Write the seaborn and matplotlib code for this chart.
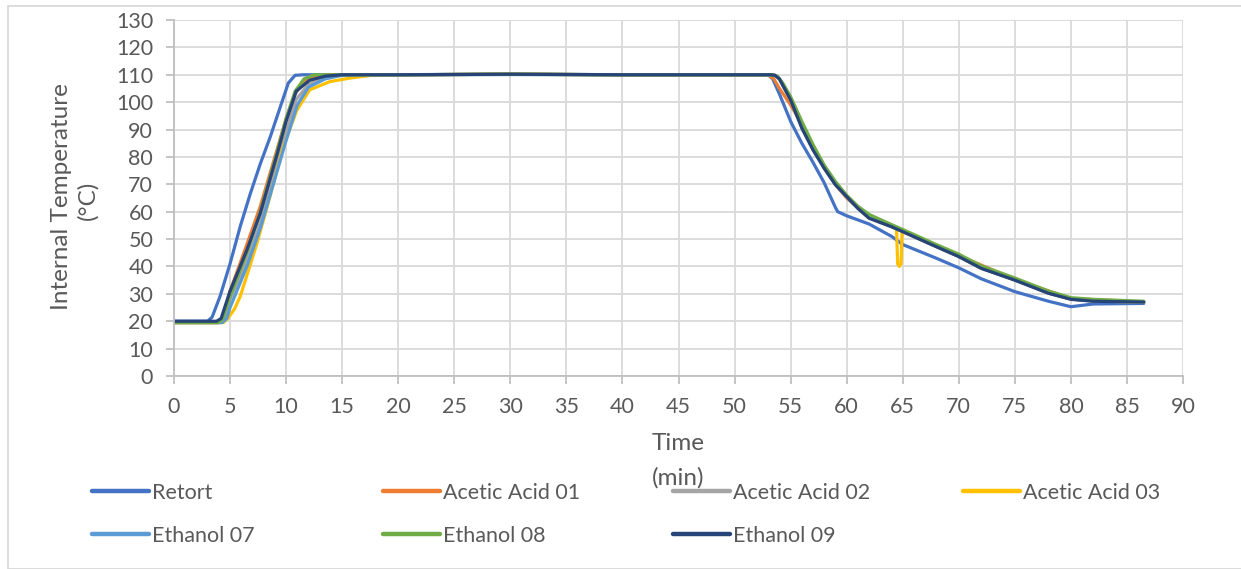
import matplotlib
matplotlib.use("Agg")
import matplotlib.pyplot as plt
import seaborn as sns
from matplotlib.lines import Line2D
from matplotlib.patches import Rectangle

# ---------------- data ----------------
series_names = ["Retort", "Acetic Acid 01", "Acetic Acid 02", "Acetic Acid 03",
                "Ethanol 07", "Ethanol 08", "Ethanol 09"]
series_colors = ["#4472C4", "#ED7D31", "#A5A5A5", "#FFC000",
                 "#5B9BD5", "#70AD47", "#264478"]

retort_t = [0, 3.0, 3.4, 4.1, 5.0, 5.9, 6.8, 7.7, 8.6, 9.5, 10.2, 10.8, 11.5, 20, 30, 40, 50,
            53.0, 53.4, 54, 55, 56, 57, 58, 59, 59.2, 60, 62, 64, 65, 68, 70, 72, 75, 78, 80, 82, 86.5]
retort_T = [20, 20, 21.5, 29, 41, 54.5, 66.5, 77.5, 87.5, 98.5, 107, 109.8, 110, 110, 110.3, 110, 110,
            110, 108.5, 103, 93, 85, 78, 70.5, 61.5, 60, 58.5, 55.5, 51, 48, 43, 39.5, 35.5, 30.8, 27.3, 25.3, 26.3, 26.5]

aa01_t = [0, 3.9, 4.3, 5.0, 6.5, 7.7, 9.0, 10.0, 10.8, 11.6, 12.5, 14, 20, 30, 40, 50,
          53.0, 53.5, 54, 55, 56, 57, 58, 59, 60, 61, 62, 64, 65, 70, 75, 80, 86.5]
aa01_T = [19.5, 19.5, 20.5, 31, 48, 62, 80, 94, 103, 107.5, 109.2, 110, 110, 110.2, 110, 110,
          110, 108.5, 105, 99, 92, 84, 76.5, 70, 65, 61.5, 58.5, 55, 53, 44, 35.3, 28.3, 27]

aa02_t = [0, 4.1, 4.5, 5.0, 6.5, 7.7, 9.0, 10.0, 10.9, 12.0, 13.5, 15, 20, 30, 40, 50,
          53.2, 53.6, 54, 55, 56, 57, 58, 59, 60, 61, 62, 64, 65, 68, 70, 72, 75, 78, 80, 82, 86.5]
aa02_T = [19.5, 19.5, 21, 28, 42, 56, 75, 89, 101, 106.5, 109, 110, 110, 110.1, 110, 110,
          110, 109.8, 108.5, 101, 91, 83, 76, 70, 65.5, 61.3, 57.8, 54.6, 52.8, 47.3, 43.7, 39.4, 35.1, 30.3, 28.1, 27.4, 27]

aa03_t = [0, 4.4, 4.8, 5.4, 5.9, 6.6, 7.4, 8.56, 9.75, 10.95, 12.1, 13.9, 15.7, 18, 20, 30, 40, 50,
          53.2, 53.6, 54, 55, 56, 57, 58, 59, 60, 61, 62, 64, 64.45, 64.55, 64.7, 64.85, 64.95, 65,
          68, 70, 72, 75, 78, 80, 82, 86.5]
aa03_T = [19.5, 19.5, 21, 24.5, 29, 38, 48.5, 65.5, 83.7, 97, 104.5, 107.5, 108.8, 110, 110, 110.2, 110, 110,
          110, 109.8, 108.5, 101, 91, 83, 76, 70, 65.5, 61.3, 57.8, 54.6, 53.6, 41, 40, 41, 52.8, 52.7,
          47.3, 43.7, 39.4, 35.1, 30.3, 28.1, 27.4, 27]

e07_t = [0, 4.3, 4.7, 5.0, 6.5, 7.7, 9.0, 10.0, 11.0, 12.0, 13.5, 15, 17, 20, 30, 40, 50,
         53.2, 53.6, 54, 55, 56, 57, 58, 59, 60, 61, 62, 64, 65, 68, 70, 72, 75, 78, 80, 82, 86.5]
e07_T = [19.5, 19.5, 21, 25, 40, 54, 72, 86, 99, 105.5, 108.5, 109.8, 110, 110, 110.1, 110, 110,
         110, 109.8, 108.5, 101, 91, 83, 76, 70, 65.5, 61.3, 57.8, 54.6, 52.8, 47.3, 43.7, 39.4, 35.1, 30.3, 28.1, 27.4, 27]

e08_t = [0, 3.9, 4.3, 5.0, 6.5, 7.7, 9.0, 10.0, 10.8, 11.6, 12.5, 14, 20, 30, 40, 50,
         53.3, 53.8, 54.3, 55, 56, 57, 58, 59, 60, 61, 62, 64, 65, 68, 70, 72, 75, 78, 80, 82, 86.5]
e08_T = [19.5, 19.5, 20.5, 29, 45, 60, 79, 94, 104, 108.5, 110, 110, 110, 110.2, 110, 110,
         110, 109.5, 107, 102, 93, 84.5, 77, 71, 66, 62, 59, 55.3, 53.5, 48, 44.5, 40.2, 35.8, 31, 28.6, 28, 27.3]

e09_t = [0, 3.8, 4.2, 5.0, 6.5, 7.7, 9.2, 10.0, 10.9, 12.1, 13.5, 15, 20, 30, 40, 50,
         53.2, 53.6, 54, 55, 56, 57, 58, 59, 60, 61, 62, 64, 65, 68, 70, 72, 75, 78, 80, 82, 86.5]
e09_T = [20, 20, 21, 31, 46, 59.5, 81, 93, 104, 108, 109.5, 110, 110, 110.2, 110, 110,
         110, 109.8, 108.5, 100.8, 90.5, 82.5, 75.8, 69.8, 65.5, 61.2, 57.6, 54.5, 52.7, 47.2, 43.6, 39.3, 35, 30.2, 28, 27.3, 27]

x_ticks = list(range(0, 91, 5))
y_ticks = list(range(0, 131, 10))

series_t = [retort_t, aa01_t, aa02_t, aa03_t, e07_t, e08_t, e09_t]
series_T = [retort_T, aa01_T, aa02_T, aa03_T, e07_T, e08_T, e09_T]

# ---------------- figure ----------------
sns.set_theme(style="white")
FONT = ["Lato", "DejaVu Sans"]
plt.rcParams["font.family"] = FONT
TXT = "#595959"
GRID = "#d9d9d9"
AXIS = "#bfbfbf"
FS = 15.5
FS_TITLE = 17.5

W, H = 1241, 569
fig = plt.figure(figsize=(W / 100, H / 100), dpi=100)
fig.patch.set_facecolor("white")

# chart frame
fig.add_artist(Rectangle((8 / W, 0), 1.2, 1 - 6 / H, transform=fig.transFigure,
                         fill=False, edgecolor=GRID, linewidth=1.3))

L, R, T, B = 174, 1183, 20, 376
ax = fig.add_axes([L / W, 1 - B / H, (R - L) / W, (B - T) / H])

for t, v, c, n in zip(series_t, series_T, series_colors, series_names):
    sns.lineplot(x=t, y=v, ax=ax, color=c, linewidth=2.3, label=n, legend=False,
                 sort=False, estimator=None)

ax.set_xlim(0, 90)
ax.set_ylim(0, 130)
ax.set_xticks(x_ticks)
ax.set_yticks(y_ticks)
ax.grid(True, color=GRID, linewidth=1.3)
ax.set_axisbelow(True)
for s in ["top", "right"]:
    ax.spines[s].set_visible(False)
for s in ["left", "bottom"]:
    ax.spines[s].set_color(AXIS)
    ax.spines[s].set_linewidth(1.3)
ax.tick_params(axis="both", which="major", direction="out", length=6, width=1.3,
               color=AXIS, labelcolor=TXT, labelsize=FS, pad=9, left=True, bottom=True)
ax.set_xlabel("")
ax.set_ylabel("")

# axis titles
fig.text(678 / W, 1 - 444 / H, "Time", ha="center", va="center", color=TXT, fontsize=FS_TITLE)
fig.text(678 / W, 1 - 478 / H, "(min)", ha="center", va="center", color=TXT, fontsize=FS_TITLE)
fig.text(62 / W, 1 - 197 / H, "Internal Temperature", ha="center", va="center",
         rotation=90, color=TXT, fontsize=FS_TITLE)
fig.text(88 / W, 1 - 200 / H, "(°C)", ha="center", va="center",
         rotation=90, color=TXT, fontsize=FS_TITLE)

# legend entries (Excel-style grid: 4 columns, 2 rows)
col_x = [92, 383, 673, 963]
row_y = [493, 536]
positions = [(0, 0), (1, 0), (2, 0), (3, 0), (0, 1), (1, 1), (2, 1)]
for (ci, ri), n, c in zip(positions, series_names, series_colors):
    h = Line2D([], [], color=c, linewidth=3.2)
    lg = fig.legend([h], [n], loc="center left",
                    bbox_to_anchor=(col_x[ci] / W, 1 - row_y[ri] / H),
                    frameon=False, fontsize=FS, handlelength=57 / (FS * 100 / 72),
                    handletextpad=0.15, borderpad=0, borderaxespad=0)
    for tx in lg.get_texts():
        tx.set_color(TXT)

fig.savefig("out.png", dpi=100, facecolor="white")
